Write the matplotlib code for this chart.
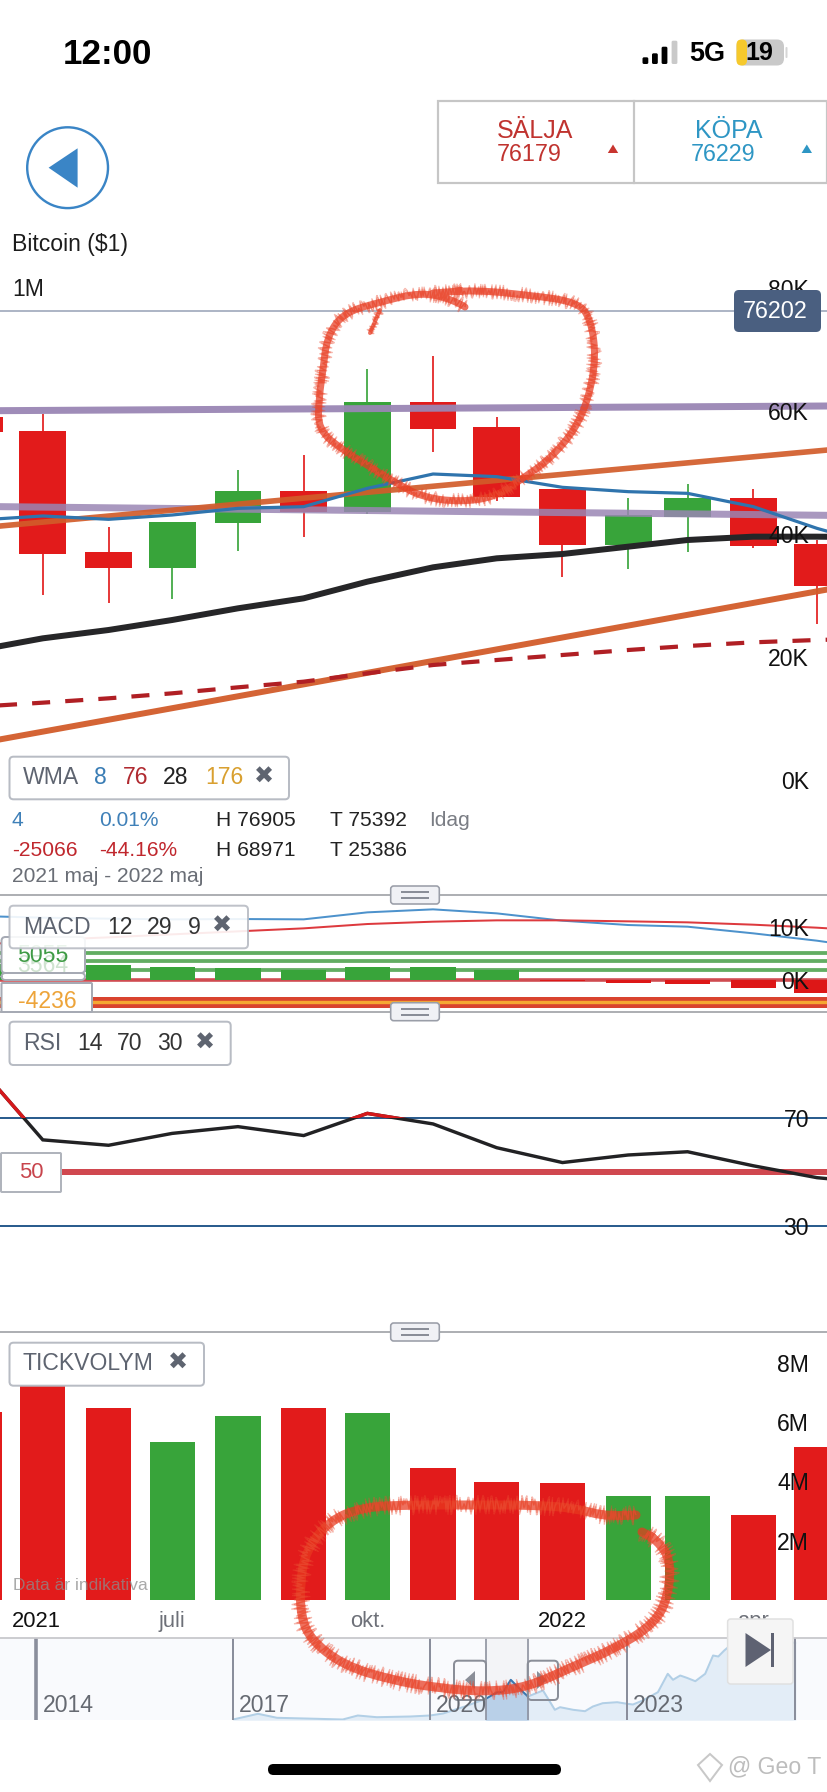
#!/usr/bin/env python3
"""Bitcoin monthly chart screenshot: candles, MACD, RSI, tick volume and navigator."""

from datetime import date

import numpy as np
import matplotlib
matplotlib.use("Agg")
import matplotlib.pyplot as plt
import matplotlib.dates as mdates
from matplotlib.patches import Circle, FancyBboxPatch, PathPatch, Polygon, Rectangle
from matplotlib.path import Path

plt.rcParams['font.family'] = ['Liberation Sans', 'DejaVu Sans']

W, H = 828, 1792

# -----------------------------------------------------------------------------
# Data
# -----------------------------------------------------------------------------
months = [date(2021, 4, 1), date(2021, 5, 1), date(2021, 6, 1), date(2021, 7, 1),
          date(2021, 8, 1), date(2021, 9, 1), date(2021, 10, 1), date(2021, 11, 1),
          date(2021, 12, 1), date(2022, 1, 1), date(2022, 2, 1), date(2022, 3, 1),
          date(2022, 4, 1), date(2022, 5, 1), date(2022, 6, 1)]

candle_open = [58970, 56800, 37020, 34550, 41790, 46990, 43630, 61460, 57400, 47260, 38210, 42820, 45910, 38370]
candle_close = [56640, 36750, 34550, 42000, 46990, 43630, 61460, 57070, 46070, 38210, 43040, 45910, 38100, 31540]
candle_high = [64000, 59460, 41190, 42000, 50400, 52850, 66880, 68890, 59020, 47260, 45800, 48130, 47370, 39020]
candle_low = [47000, 30030, 28830, 29380, 37280, 39570, 43250, 53330, 45410, 32960, 34260, 37120, 37670, 25370]

wma8 = [42277, 42930, 42385, 43090, 44170, 44445, 47425, 49755, 49325, 47590, 46885, 46610, 44445, 40920, 37940]
wma28 = [21139, 23036, 24391, 26017, 27914, 29540, 32250, 34581, 36044, 36749, 37941, 39025, 39567, 39567, 39459]
wma76 = [11925, 12575, 13280, 14093, 15068, 15990, 17345, 18700, 19513, 20326, 21139, 21790, 22385, 22765, 23036]

trend_dates = [date(2021, 4, 11), date(2022, 5, 6)]
trend_upper = [41301, 53659]
trend_lower = [6613, 30983]
channel_upper = [60055, 60814]
channel_lower = [44445, 43036]
last_price = 76202

macd_line = [12072, 11757, 11569, 11443, 11506, 11443, 12764, 13330, 12574, 11191, 10374, 10059, 8801, 7417, 5656]
macd_signal = [6600, 7543, 8046, 8612, 9178, 9745, 10562, 11003, 11255, 11255, 11066, 10877, 10437, 9870, 9115]
macd_hist = [3000, 3200, 2830, 2390, 2200, 1887, 2390, 2390, 1887, -100, -566, -818, -1572, -2390]
macd_levels_green = [5055, 3564, 1810]
macd_level_low = -4236

rsi_values = [89, 61.9, 59.9, 64.3, 66.8, 63.5, 71.7, 67.8, 59, 53.5, 56.3, 57.5, 52.3, 47.9, 45.6]

volume_m = [6.35, 7.29, 6.48, 5.34, 6.22, 6.48, 6.31, 4.45, 3.98, 3.95, 3.51, 3.52, 2.86, 5.15]

date_ticks = [date(2021, 4, 28), date(2021, 7, 1), date(2021, 10, 1), date(2022, 1, 1), date(2022, 4, 1)]
date_labels = ['2021', 'juli', 'okt.', '2022', 'apr']

nav_years = [2017.00, 2017.38, 2017.67, 2018.28, 2018.67, 2018.90, 2019.19, 2019.70, 2020.00, 2020.20, 2020.53,
             2020.85, 2021.02, 2021.11, 2021.23, 2021.34, 2021.49, 2021.72, 2021.83, 2021.90, 2021.98, 2022.18,
             2022.36, 2022.48, 2022.63, 2022.85, 2023.00, 2023.09, 2023.24, 2023.47, 2023.62, 2023.70, 2023.81,
             2023.91, 2024.04, 2024.19, 2024.31, 2024.39, 2024.48, 2024.54, 2025.03, 2025.56]
nav_level = [0, 5.7, 1.7, 0.7, 0, 4, 2.3, 3, 4, 6, 13,
             20.7, 27.3, 27.3, 39.7, 32.3, 23, 29, 17.3, 9.7, 12.3, 9.7,
             8.3, 13, 16.3, 17.3, 15.7, 15, 19, 27.3, 45.7, 39.7, 44,
             41.7, 38.3, 45.7, 64, 63, 69, 72.3, 74, 77]
nav_grid_years = [2017, 2020, 2023]

# Hand-drawn red circles on top of the screenshot, in picture pixels
scribble_top = [(465, 307), (454, 300), (422, 292), (380, 302), (343, 313), (327, 337), (323, 370), (319, 397),
                (318, 430), (343, 450), (370, 467), (396, 483), (422, 497), (459, 502), (496, 497), (523, 478),
                (549, 460), (575, 430), (589, 397), (596, 357), (591, 320), (578, 302), (528, 295), (475, 290),
                (433, 293)]
scribble_tail = [(380, 310), (370, 333)]
scribble_bottom = [(636, 1515), (607, 1517), (575, 1508), (533, 1505), (465, 1505), (407, 1505), (364, 1507),
                   (330, 1520), (306, 1550), (300, 1583), (301, 1617), (311, 1640), (343, 1665), (391, 1680),
                   (438, 1688), (486, 1692), (528, 1687), (570, 1668), (618, 1647), (655, 1623), (668, 1597),
                   (671, 1560), (657, 1540), (642, 1532)]

# -----------------------------------------------------------------------------
# Colours
# -----------------------------------------------------------------------------
RED = '#e21b1b'
GREEN = '#38a43a'
GRAY_TXT = '#5e6470'
BOX_EDGE = '#b8bcc4'
SEP = '#aeb0b4'
NAV_LINE = '#8a8e9c'


def px(v):
    """Pixels to points at dpi 100."""
    return v * 0.72


fig = plt.figure(figsize=(W / 100, H / 100), dpi=100, facecolor='white')

month_num = mdates.date2num(months)
PX_PER_DAY = 2.121
XLIM = (month_num[1] - 42.8 / PX_PER_DAY, month_num[1] + (W - 42.8) / PX_PER_DAY)
candle_dates = month_num[:-1]


def add_panel(top, bottom, ylim):
    ax = fig.add_axes([0, 1 - bottom / H, 1, (bottom - top) / H])
    ax.patch.set_alpha(0)
    for s in ax.spines.values():
        s.set_visible(False)
    ax.set_xlim(*XLIM)
    ax.set_ylim(*ylim)
    ax.set_axisbelow(False)
    ax.set_xticks([])
    return ax


def right_labels(ax, ticks, labels):
    ax.yaxis.tick_right()
    ax.set_yticks(ticks)
    ax.set_yticklabels(labels, fontsize=px(23), color='#111111', ha='right')
    ax.tick_params(axis='y', length=0, pad=-px(19))


# -----------------------------------------------------------------------------
# Price panel
# -----------------------------------------------------------------------------
ax_price = add_panel(270, 895, (-18699, 82927))
colors = [GREEN if c >= o else RED for o, c in zip(candle_open, candle_close)]
ax_price.vlines(candle_dates, candle_low, candle_high, colors=colors, linewidth=px(1.7), zorder=1)
ax_price.bar(candle_dates, np.abs(np.subtract(candle_close, candle_open)),
             bottom=np.minimum(candle_open, candle_close), width=22, color=colors, zorder=1.2)

ax_price.axhline(last_price, color='#9aa5b8', linewidth=px(1.6), zorder=0.5)
ax_price.plot(trend_dates, channel_upper, color='#9a86b4', linewidth=px(7), alpha=0.95, zorder=1.5)
ax_price.plot(trend_dates, channel_lower, color='#9a86b4', linewidth=px(7), alpha=0.85, zorder=1.5)
ax_price.plot(trend_dates, trend_upper, color='#d25c2a', linewidth=px(5.6), alpha=0.92, zorder=1.6)
ax_price.plot(trend_dates, trend_lower, color='#d25c2a', linewidth=px(6), alpha=0.95, zorder=1.6)
ax_price.plot(months, wma76, color='#b01f24', linewidth=px(4.2), dashes=(4.3, 3.6), zorder=1.7)
ax_price.plot(months, wma28, color='#262628', linewidth=px(6), zorder=1.8)
ax_price.plot(months, wma8, color='#2f74ad', linewidth=px(3.2), zorder=1.9)
right_labels(ax_price, [0, 20000, 40000, 60000, 80000], ['0K', '20K', '40K', '60K', '80K'])

# -----------------------------------------------------------------------------
# MACD panel
# -----------------------------------------------------------------------------
ax_macd = add_panel(895, 1012, (-6038, 16038))
ax_macd.bar(candle_dates, macd_hist, width=21.3, zorder=1.2,
            color=[GREEN if v > 0 else '#dd1717' for v in macd_hist])
for level in macd_levels_green:
    ax_macd.axhline(level, color='#62ad62', linewidth=px(3.8), zorder=1)
ax_macd.axhline(0, color='#cf4b50', linewidth=px(3.6), zorder=1)
ax_macd.axhline(macd_level_low, color='#d9432f', linewidth=px(11), zorder=1)
ax_macd.axhline(macd_level_low, color='#f5a733', linewidth=px(3.4), zorder=1.1)
ax_macd.plot(months, macd_line, color='#4d92cc', linewidth=px(2), zorder=1.5)
ax_macd.plot(months, macd_signal, color='#dd3a3e', linewidth=px(2), zorder=1.5)
right_labels(ax_macd, [0, 10000], ['0K', '10K'])

# -----------------------------------------------------------------------------
# RSI panel
# -----------------------------------------------------------------------------
RSI_LIM = (-9.26, 109.26)
ax_rsi = add_panel(1012, 1332, RSI_LIM)
ax_rsi.axhline(70, color='#2b5d8e', linewidth=px(2), zorder=1)
ax_rsi.axhline(30, color='#2b5d8e', linewidth=px(2), zorder=1)
ax_rsi.axhline(50, color='#d0484f', linewidth=px(6), zorder=1)
ax_rsi.plot(months, rsi_values, color='#222224', linewidth=px(3.4), zorder=1.5, solid_joinstyle='miter')
hot, = ax_rsi.plot(months, rsi_values, color='#d5191c', linewidth=px(3.4), zorder=1.6, solid_joinstyle='miter')
hot.set_clip_path(Rectangle((XLIM[0], 70), XLIM[1] - XLIM[0], RSI_LIM[1] - 70, transform=ax_rsi.transData))
right_labels(ax_rsi, [30, 70], ['30', '70'])

# -----------------------------------------------------------------------------
# Tick volume panel
# -----------------------------------------------------------------------------
ax_vol = add_panel(1332, 1600, (0, 9.04))
ax_vol.bar(candle_dates, volume_m, width=21.3, color=colors, zorder=1)
right_labels(ax_vol, [2, 4, 6, 8], ['2M', '4M', '6M', '8M'])
ax_vol.set_xticks(mdates.date2num(date_ticks))
ax_vol.set_xticklabels(date_labels, fontsize=px(22))
ax_vol.tick_params(axis='x', length=0, pad=px(11))
for lab, txt in zip(ax_vol.get_xticklabels(), date_labels):
    lab.set_color('#111111' if txt.isdigit() else '#6d7078')

# -----------------------------------------------------------------------------
# Navigator
# -----------------------------------------------------------------------------
ax_nav = fig.add_axes([0, 1 - 1719.5 / H, 1, (1719.5 - 1638) / H])
ax_nav.set_xlim(2014 - 36 / 65.67, 2014 + (W - 36) / 65.67)
ax_nav.set_ylim(0, 81.5)
ax_nav.set_facecolor('#f9fafd')
for s in ax_nav.spines.values():
    s.set_visible(False)
ax_nav.set_xticks([])
ax_nav.set_yticks([])
nav_x = np.array(nav_years)
nav_y = np.array(nav_level)
ax_nav.fill_between(nav_x, nav_y, color='#e3edf7', zorder=1)
ax_nav.plot(nav_x, nav_y, color='#b2cfe6', linewidth=px(2), zorder=1.2)
ax_nav.axvspan(2020.85, 2021.49, color='#f3f4f7', zorder=1.3)
sel = (nav_x >= 2020.85) & (nav_x <= 2021.49)
ax_nav.fill_between(nav_x[sel], nav_y[sel], color='#b9d0e8', zorder=1.4)
ax_nav.plot(nav_x[sel], nav_y[sel], color='#3a78b0', linewidth=px(2), zorder=1.5)
ax_nav.axvline(2014, color=NAV_LINE, linewidth=px(3.6), zorder=2)
for yr in nav_grid_years + [2025.56]:
    ax_nav.axvline(yr, color=NAV_LINE, linewidth=px(2), zorder=2)
ax_nav.axvline(2020.85, color=NAV_LINE, linewidth=px(1.6), zorder=2)
ax_nav.axvline(2021.49, color=NAV_LINE, linewidth=px(1.6), zorder=2)

# -----------------------------------------------------------------------------
# Screen furniture, drawn in picture pixels
# -----------------------------------------------------------------------------
ov = fig.add_axes([0, 0, 1, 1], zorder=10)
ov.set_xlim(0, W)
ov.set_ylim(H, 0)
ov.axis('off')


def box(x0, y0, x1, y1, fc='white', ec=BOX_EDGE, lw=2, rad=4, z=3, alpha=None):
    p = FancyBboxPatch((x0, y0), x1 - x0, y1 - y0, boxstyle=f'round,pad=0,rounding_size={rad}',
                       facecolor=fc, edgecolor=ec, linewidth=px(lw), zorder=z, alpha=alpha)
    ov.add_patch(p)


def label(x, y, s, em=23, color='#111111', ha='left', weight='normal', z=4, alpha=None):
    ov.text(x, y, s, fontsize=px(em), color=color, ha=ha, va='center', fontweight=weight, zorder=z, alpha=alpha)


def tri(points, color, z=4):
    ov.add_patch(Polygon(points, closed=True, facecolor=color, edgecolor='none', zorder=z))


# status bar
label(63, 55, '12:00', em=35, color='black', weight='bold')
for x0, top, c in [(642.5, 57.3, 'black'), (652, 53.3, 'black'), (661.6, 46.7, 'black'), (671.6, 40.7, '#c9c9c9')]:
    box(x0, top, x0 + 5.8, 64, fc=c, ec='none', lw=0, rad=1.5)
label(689, 54, '5G', em=27, color='black', weight='bold')
box(736.5, 39.5, 784, 65.5, fc='#c9c9c9', ec='none', lw=0, rad=7)
box(736.5, 39.5, 747, 65.5, fc='#f6c92c', ec='none', lw=0, rad=5)
box(785.5, 47, 787.5, 58, fc='#d6d6d6', ec='none', lw=0, rad=1)
label(759, 53, '19', em=25, color='black', ha='center', weight='bold')

# sell / buy box and back button
ov.add_patch(Rectangle((438, 101), 389, 82, facecolor='white', edgecolor='#c6c6c6', linewidth=px(2.2), zorder=3))
ov.plot([633.6, 633.6], [101, 183], color='#c6c6c6', linewidth=px(2.2), zorder=3)
label(535, 131, 'SÄLJA', em=25, color='#c0332f', ha='center')
label(529, 154.5, '76179', em=23.4, color='#c0332f', ha='center')
tri([(613, 144.5), (607.8, 153), (618.2, 153)], '#c8352f')
label(728.6, 131, 'KÖPA', em=25, color='#2e96c4', ha='center')
label(723, 154.5, '76229', em=23.4, color='#2e96c4', ha='center')
tri([(806.8, 144.5), (801.6, 153), (812, 153)], '#2e96c4')
ov.add_patch(Circle((67.6, 167.7), 40.4, facecolor='white', edgecolor='#3a85c6', linewidth=px(2.4), zorder=3))
tri([(48.6, 167.7), (77.6, 148.3), (77.6, 187.7)], '#3a85c6')

label(12, 245, 'Bitcoin ($1)', color='#1c1c1c')
label(12, 290, '1M', color='#1c1c1c')
box(734, 290, 821, 332, fc='#4a5f80', ec='none', lw=0, rad=5)
label(775, 311.5, '76202', em=23.4, color='white', ha='center')

# WMA legend and quote rows
box(9.5, 756.7, 289, 799.3)
label(22.7, 778, 'WMA', color=GRAY_TXT)
label(94, 778, '8', color='#3a7db5')
label(122.5, 778, '76', color='#b02a30')
label(162.6, 778, '28', color='#222222')
label(205, 778, '176', color='#d9a030')
label(264, 778, '✖', em=24, color=GRAY_TXT, ha='center')

for y, cells in [(820.7, [(12, '4', '#3f80b8'), (98.7, '0.01%', '#3f80b8'), (216.5, 'H 76905', '#222222'),
                          (330, 'T 75392', '#222222'), (428.7, 'Idag', '#7a7d84')]),
                 (850, [(12, '-25066', '#c0272d'), (98.7, '-44.16%', '#c0272d'), (216.5, 'H 68971', '#222222'),
                        (330, 'T 25386', '#222222')])]:
    for x, s, c in cells:
        label(x, y, s, em=21, color=c)
label(12, 876, '2021 maj - 2022 maj', em=21, color='#6a6e76')

# panel separators
for y in [895, 1011.7, 1332]:
    ov.plot([0, W], [y, y], color=SEP, linewidth=px(2), zorder=2.5)
    box(390.7, y - 9, 439.3, y + 9, fc='#f0f1f5', ec='#9a9ea8', lw=1.6, rad=3, z=3)
    for dy in (-3, 3):
        ov.plot([402, 428], [y + dy, y + dy], color='#8a8e98', linewidth=px(2), zorder=4)

# MACD legend and level tags
box(1.5, 937, 85, 973, ec='#a6aab4', z=2.6)
box(1.5, 973, 85, 980, ec='#a6aab4', z=2.6)
box(1.5, 983, 92, 1012, ec='#a6aab4', z=2.6, rad=1)
label(43, 955, '5055', em=23, color='#3f9b45', ha='center', z=2.9)
label(43, 966, '3564', em=23, color='#cfe3d0', ha='center', z=2.8)
label(47, 1002, '-4236', em=23, color='#eda43a', ha='center', z=2.9)
box(9.5, 905.7, 248, 948.3, alpha=0.9)
label(22.7, 927, 'MACD', color=GRAY_TXT)
label(107, 927, '12', color='#333333')
label(146.8, 927, '29', color='#333333')
label(188, 927, '9', color='#333333')
label(221.8, 927, '✖', em=24, color=GRAY_TXT, ha='center')

# RSI legend and level tag
box(9.5, 1021.7, 230.7, 1065)
label(22.7, 1044, 'RSI', color=GRAY_TXT)
label(77.6, 1044, '14', color='#333333')
label(117, 1044, '70', color='#333333')
label(157, 1044, '30', color='#333333')
label(205, 1044, '✖', em=24, color=GRAY_TXT, ha='center')
box(1, 1153, 61, 1192, ec='#b0b4bc', rad=1)
label(31, 1172, '50', em=22, color='#c8444c', ha='center')

# volume legend
box(9.5, 1342.7, 204, 1385.7)
label(22.7, 1364, 'TICKVOLYM', color=GRAY_TXT)
label(178.5, 1364, '✖', em=24, color=GRAY_TXT, ha='center')
label(13, 1585, 'Data är indikativa', em=17.4, color='#8c8c8c', alpha=0.75)

# navigator furniture
ov.plot([0, W], [1638, 1638], color='#c8c8cc', linewidth=px(1.8), zorder=2.5)
label(43, 1705, '2014', color='#666a72')
label(239, 1705, '2017', color='#666a72')
label(436, 1705, '2020', color='#666a72')
label(633, 1705, '2023', color='#666a72')
box(454, 1660.7, 486, 1700, fc='none', ec='#8a8e98', lw=2, rad=4)
box(527.7, 1660.7, 558, 1700, fc='none', ec='#8a8e98', lw=2, rad=4)
tri([(465, 1680), (475, 1671), (475, 1689)], '#8a8e98')
tri([(547, 1680), (537, 1671), (537, 1689)], '#8a8e98')
box(727.6, 1619, 793, 1684, fc='#f5f5f5', ec='#e0e0e0', lw=1.5, rad=3)
tri([(745.5, 1633), (745.5, 1667), (771, 1650)], '#5e6272')
ov.add_patch(Rectangle((771.5, 1633), 2.4, 34, facecolor='#5e6272', edgecolor='none', zorder=4))

# home indicator and watermark
box(268, 1764, 561, 1775, fc='black', ec='none', lw=0, rad=5.5)
ov.add_patch(Polygon([(710, 1754), (722, 1765), (710, 1781), (698, 1765)], closed=True, facecolor='none',
                     edgecolor='#c8c8c8', linewidth=px(2), zorder=4))
label(728, 1767, '@ Geo T', color='#bdbdbd')


def scribble(points, lw):
    """Hand-drawn stroke: smooth core through midpoints with fine rough fibres on top."""
    pts = np.array(points, dtype=float)
    verts = [tuple(pts[0])]
    codes = [Path.MOVETO]
    for a, b in zip(pts[1:-1], pts[2:]):
        verts += [tuple(a), tuple((a + b) / 2)]
        codes += [Path.CURVE3, Path.CURVE3]
    verts += [tuple(pts[-2]), tuple(pts[-1])]
    codes += [Path.CURVE3, Path.CURVE3]
    path = Path(verts, codes)
    ov.add_patch(PathPatch(path, facecolor='none', edgecolor='#e8391f', linewidth=px(lw), alpha=0.72,
                           capstyle='round', joinstyle='round', zorder=8))
    for scale in (lw * 0.5, lw * 0.8, lw * 1.1):
        patch = PathPatch(path, facecolor='none', edgecolor='#ea4a30', linewidth=px(1.2), alpha=0.4, zorder=8)
        patch.set_sketch_params(scale, 4, 3)
        ov.add_patch(patch)


scribble(scribble_top, 7)
scribble(scribble_tail, 4)
scribble(scribble_bottom, 9)

fig.savefig('out.png', dpi=100, facecolor='white')
